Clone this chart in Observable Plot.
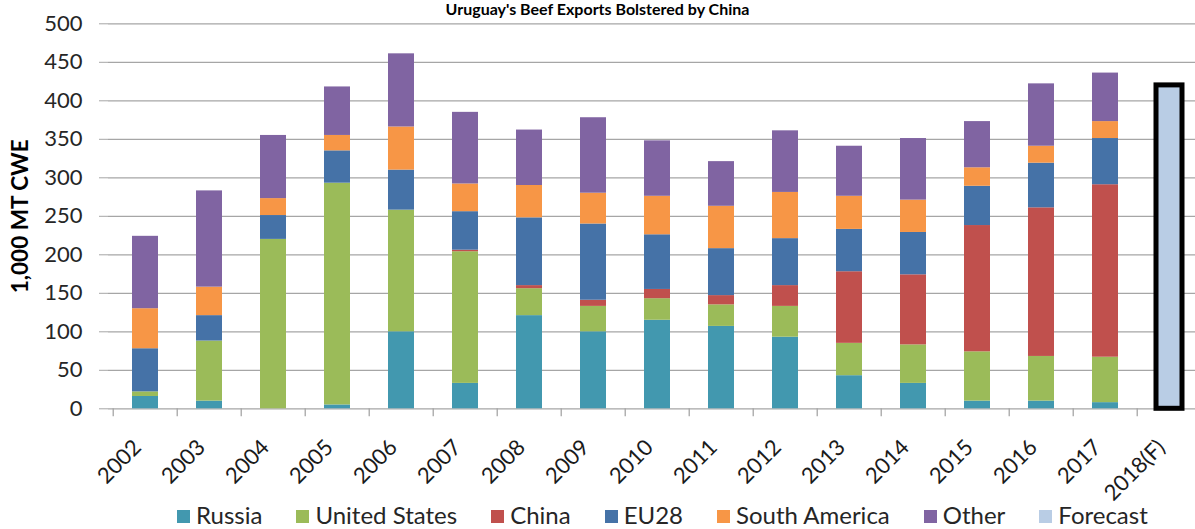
<!DOCTYPE html>
<html>
<head>
<meta charset="utf-8">
<script src="https://cdn.jsdelivr.net/npm/d3@7"></script>
<script src="https://cdn.jsdelivr.net/npm/@observablehq/plot@0.6"></script>
<style>
  html, body { margin: 0; padding: 0; background: #fff; overflow: hidden; }
  #wrap { position: relative; width: 1195px; height: 529px; font-family: Lato, "Open Sans", sans-serif; }
  #title { position: absolute; top: 0px; left: 0; width: 1195px; text-align: center; font-weight: bold; font-size: 16px; line-height: 18px; color: #000; }
  #chart { position: absolute; top: 0; left: 0; }
  #legend { position: absolute; top: 501px; left: 177px; display: flex; gap: 34px; font-size: 24px; line-height: 28px; color: #262626; }
  #legend .item { display: flex; align-items: center; gap: 6px; }
  #legend .sw { width: 13px; height: 13px; display: inline-block; margin-top: 3px; }
</style>
</head>
<body>
<div id="wrap">
  <div id="chart"></div>
  <div id="title">Uruguay's Beef Exports Bolstered by China</div>
  <div id="legend"></div>
</div>
<script>
const years = ["2002","2003","2004","2005","2006","2007","2008","2009","2010","2011","2012","2013","2014","2015","2016","2017","2018(F)"];
const russia       = [16, 10,   0,   5, 100,  33, 121, 100, 115, 107,  93,  43,  33,  10,  10,   8, 0];
const unitedStates = [ 6, 78, 220, 288, 158, 171,  35,  33,  28,  28,  40,  42,  50,  64,  58,  59, 0];
const china        = [ 0,  0,   0,   0,   0,   2,   4,   8,  12,  12,  27,  93,  91, 164, 193, 224, 0];
const eu28         = [56, 33,  31,  42,  52,  50,  88,  99,  71,  61,  61,  55,  55,  51,  58,  60, 0];
const southAmerica = [52, 37,  22,  20,  56,  36,  42,  40,  50,  55,  60,  43,  42,  24,  22,  22, 0];
const other        = [94,125,  82,  63,  95,  93,  72,  98,  72,  58,  80,  65,  80,  60,  81,  63, 0];
const forecast     = [ 0,  0,   0,   0,   0,   0,   0,   0,   0,   0,   0,   0,   0,   0,   0,   0, 420];
const yTicks = [0, 50, 100, 150, 200, 250, 300, 350, 400, 450, 500];
const yLabel = "1,000 MT CWE";

const seriesNames = ["Russia", "United States", "China", "EU28", "South America", "Other"];
const seriesValues = [russia, unitedStates, china, eu28, southAmerica, other];
const colors = ["#4298AF", "#9BBB59", "#C0504D", "#4572A7", "#F79646", "#8064A2"];
const forecastColor = "#B9CDE5";

const rows = [];
seriesNames.forEach((s, i) => years.forEach((y, j) => rows.push({year: y, series: s, value: seriesValues[i][j]})));
const fRows = years.map((y, j) => ({year: y, value: forecast[j]})).filter(d => d.value > 0);

const W = 1195, H = 529, mL = 108, mT = 23.3, mB = 120.7;
const xRange = [108, 1205.5];
const step = (xRange[1] - xRange[0]) / years.length;

const plot = Plot.plot({
  width: W, height: H,
  marginLeft: mL, marginRight: 0, marginTop: mT, marginBottom: mB,
  style: {fontFamily: "Lato, 'Open Sans', sans-serif", fontSize: "22px", color: "#000"},
  x: {domain: years, range: xRange, paddingInner: 0.6, paddingOuter: 0.3},
  y: {domain: [0, 500]},
  color: {domain: seriesNames, range: colors},
  marks: [
    Plot.ruleY(yTicks, {stroke: "#a6a6a6", strokeWidth: 1.3}),
    Plot.ruleX([0], {frameAnchor: "left", stroke: "#a6a6a6", strokeWidth: 1.3}),
    Plot.tickX(years, {x: d => d, y1: 0, stroke: "#a6a6a6", strokeWidth: 1.3, dx: -step / 2}),
    Plot.barY(rows, {x: "year", y: "value", fill: "series", order: seriesNames}),
    Plot.barY(fRows, {x: "year", y: "value", fill: forecastColor, stroke: "#000", strokeWidth: 5}),
    Plot.axisY({ticks: yTicks, tickSize: 9, tickPadding: 17, stroke: "#a6a6a6", label: null, fontSize: 22, color: "#262626"}),
    Plot.axisX({tickSize: 0, tickRotate: -45, tickPadding: 26, dx: -8, dy: 9, label: null, fontSize: 22, color: "#1a1a1a"}),
    Plot.text([yLabel], {frameAnchor: "left", textAnchor: "middle", rotate: -90, dx: -88, fontWeight: "bold", fontSize: 22.5, fill: "#000"})
  ]
});

// extend x ticks below the axis line
d3.select(plot).selectAll("g[aria-label='tick'] line").each(function() {
  const l = d3.select(this);
  const y1 = +l.attr("y1"), y2 = +l.attr("y2");
  const b = Math.max(y1, y2);
  l.attr("y1", b).attr("y2", b + 8);
});
document.getElementById("chart").appendChild(plot);

const legend = document.getElementById("legend");
seriesNames.concat(["Forecast"]).forEach((n, i) => {
  const it = document.createElement("div"); it.className = "item";
  const sw = document.createElement("span"); sw.className = "sw";
  sw.style.background = i < colors.length ? colors[i] : forecastColor;
  const t = document.createElement("span"); t.textContent = n;
  it.appendChild(sw); it.appendChild(t); legend.appendChild(it);
});
</script>
</body>
</html>
